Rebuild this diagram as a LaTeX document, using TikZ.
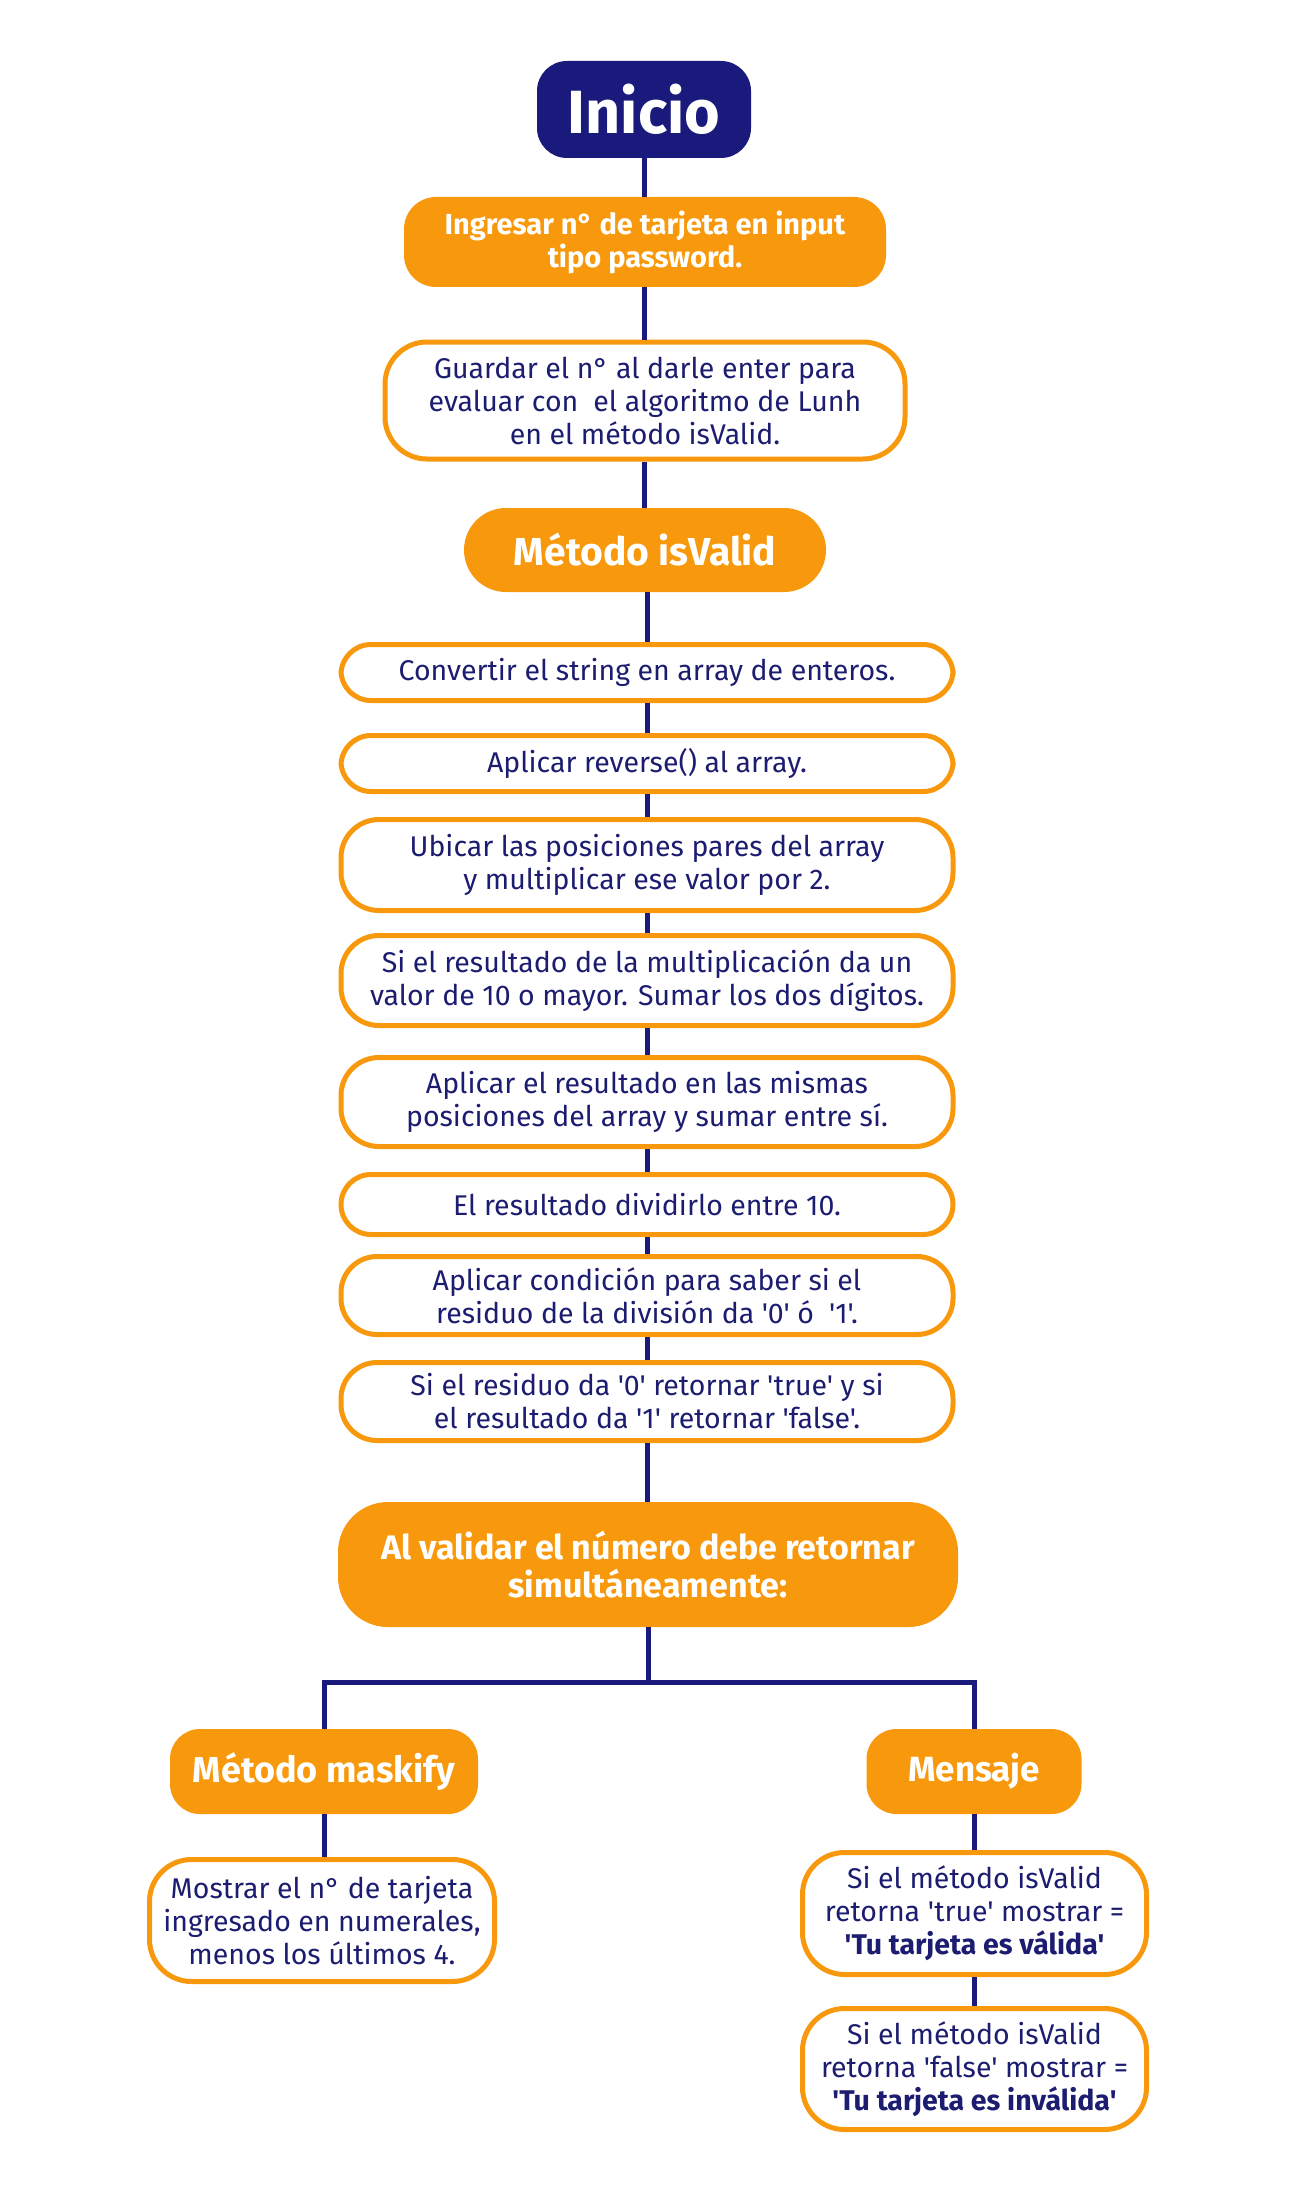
\documentclass[tikz,border=0pt]{standalone}
\usepackage{fontspec}
\setmainfont{Fira Sans}[Ligatures=TeXOff]
\definecolor{navy}{HTML}{1A1A7C}
\definecolor{txtnavy}{HTML}{1C1C70}
\definecolor{orng}{HTML}{F8990D}
\tikzset{
  conn/.style={draw=navy, line width=5pt},
  startbox/.style={fill=navy, rounded corners=30pt, minimum width=214pt, minimum height=97pt, inner sep=0pt, text=white, font=\bfseries\fontsize{61}{66}\selectfont},
  obox/.style={fill=orng, inner sep=0pt, text=white, align=center, font=\bfseries\fontsize{29}{33}\selectfont},
  wbox/.style={draw=orng, fill=white, line width=5pt, inner sep=0pt, text=txtnavy, align=center, rounded corners=30pt, font=\fontsize{28.5}{33}\selectfont},
}
\begin{document}
\begin{tikzpicture}[x=1pt,y=-1pt]
\useasboundingbox[fill=white] (0,0) rectangle (1302,2199);
% top part
\node[startbox] (ini) at (644,109.5) {Inicio};
\node[obox, rounded corners=32pt, minimum width=482pt, minimum height=90pt] (ing) at (645,242) {Ingresar n° de tarjeta en input\\tipo password.};
\node[wbox, rounded corners=42pt, minimum width=520pt, minimum height=117pt] (gua) at (645,400.5) {Guardar el n° al darle enter para\\evaluar con\ \ el algoritmo de Lunh\\en el método isValid.};
\node[obox, rounded corners=42pt, minimum width=362pt, minimum height=84pt, font=\bfseries\fontsize{39}{44}\selectfont] (isv) at (645,550) {Método isValid};
% isValid steps
\node[wbox, minimum width=612pt, minimum height=56pt] (s1) at (647,672.5) {Convertir el string en array de enteros.};
\node[wbox, minimum width=612pt, minimum height=56pt] (s2) at (647,763.5) {Aplicar reverse() al array.};
\node[wbox, rounded corners=38pt, minimum width=612pt, minimum height=91pt] (s3) at (647,865) {Ubicar las posiciones pares del array\\y multiplicar ese valor por 2.};
\node[wbox, rounded corners=38pt, minimum width=612pt, minimum height=90pt] (s4) at (647,980.5) {Si el resultado de la multiplicación da un\\valor de 10 o mayor. Sumar los dos dígitos.};
\node[wbox, rounded corners=38pt, minimum width=612pt, minimum height=89pt] (s5) at (647,1102) {Aplicar el resultado en las mismas\\posiciones del array y sumar entre sí.};
\node[wbox, minimum width=612pt, minimum height=60pt] (s6) at (647,1204.5) {El resultado dividirlo entre 10.};
\node[wbox, rounded corners=36pt, minimum width=612pt, minimum height=78pt] (s7) at (647,1295.5) {Aplicar condición para saber si el\\residuo de la división da '0' ó\ \ '1'.};
\node[wbox, rounded corners=36pt, minimum width=612pt, minimum height=78pt] (s8) at (647,1401.5) {Si el residuo da '0' retornar 'true' y si\\el resultado da '1' retornar 'false'.};
\node[obox, rounded corners=50pt, minimum width=620pt, minimum height=125pt, font=\bfseries\fontsize{34}{38}\selectfont] (alv) at (648,1564.5) {Al validar el número debe retornar\\simultáneamente:};
% branches
\node[obox, rounded corners=30pt, minimum width=308pt, minimum height=85pt, font=\bfseries\fontsize{36}{40}\selectfont] (mask) at (324,1771.5) {Método maskify};
\node[obox, rounded corners=30pt, minimum width=215pt, minimum height=85pt, font=\bfseries\fontsize{35}{40}\selectfont] (mens) at (974,1771.5) {Mensaje};
\node[wbox, rounded corners=42pt, minimum width=345pt, minimum height=122pt] (most) at (322,1920.5) {Mostrar el n° de tarjeta\\ingresado en numerales,\\menos los últimos 4.};
\node[wbox, rounded corners=42pt, minimum width=344pt, minimum height=122pt] (vt) at (974.5,1913.5) {Si el método isValid\\retorna 'true' mostrar =\\\textbf{'Tu tarjeta es válida'}};
\node[wbox, rounded corners=42pt, minimum width=344pt, minimum height=121pt] (vf) at (974.5,2069) {Si el método isValid\\retorna 'false' mostrar =\\\textbf{'Tu tarjeta es inválida'}};
\coordinate (bj) at (648,1682);
% connectors
\draw[conn] (ini.south) -- (ini.south |- ing.north);
\draw[conn] (ing.south -| ini.south) -- (ini.south |- gua.north);
\draw[conn] (gua.south -| ini.south) -- (ini.south |- isv.north);
\draw[conn] (isv.south -| s1.north) -- (s1.north);
\draw[conn] (s1.south) -- (s2.north);
\draw[conn] (s2.south) -- (s3.north);
\draw[conn] (s3.south) -- (s4.north);
\draw[conn] (s4.south) -- (s5.north);
\draw[conn] (s5.south) -- (s6.north);
\draw[conn] (s6.south) -- (s7.north);
\draw[conn] (s7.south) -- (s8.north);
\draw[conn] (s8.south) -- (alv.north -| s8.south);
\draw[conn] (alv.south) -- (bj);
\draw[conn] (mask.north) |- (bj) -| (mens.north);
\draw[conn] (mask.south) -- (mask.south |- most.north);
\draw[conn] (mens.south) -- (mens.south |- vt.north);
\draw[conn] (vt.south) -- (vf.north);
\end{tikzpicture}
\end{document}
